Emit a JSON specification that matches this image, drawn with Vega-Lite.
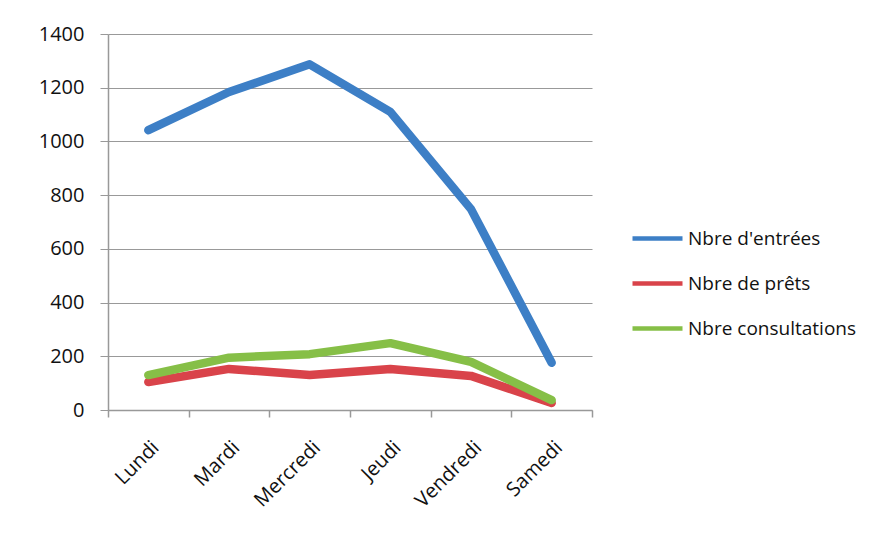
{
  "$schema": "https://vega.github.io/schema/vega-lite/v6.json",
  "autosize": "none",
  "width": 484,
  "height": 376,
  "padding": {"left": 108, "top": 34, "right": 294, "bottom": 134},
  "background": "white",
  "config": {
    "view": {"stroke": null},
    "font": "Open Sans",
    "axis": {"labelFont": "Open Sans", "labelColor": "#111", "labelFontSize": 20}
  },
  "data": {
    "values": [
      {"jour": "Lundi", "serie": "Nbre d'entrées", "v": 1042},
      {"jour": "Mardi", "serie": "Nbre d'entrées", "v": 1184},
      {"jour": "Mercredi", "serie": "Nbre d'entrées", "v": 1287},
      {"jour": "Jeudi", "serie": "Nbre d'entrées", "v": 1110},
      {"jour": "Vendredi", "serie": "Nbre d'entrées", "v": 748},
      {"jour": "Samedi", "serie": "Nbre d'entrées", "v": 176},
      {"jour": "Lundi", "serie": "Nbre de prêts", "v": 104},
      {"jour": "Mardi", "serie": "Nbre de prêts", "v": 153},
      {"jour": "Mercredi", "serie": "Nbre de prêts", "v": 130},
      {"jour": "Jeudi", "serie": "Nbre de prêts", "v": 153},
      {"jour": "Vendredi", "serie": "Nbre de prêts", "v": 127},
      {"jour": "Samedi", "serie": "Nbre de prêts", "v": 26},
      {"jour": "Lundi", "serie": "Nbre consultations", "v": 130},
      {"jour": "Mardi", "serie": "Nbre consultations", "v": 195},
      {"jour": "Mercredi", "serie": "Nbre consultations", "v": 208},
      {"jour": "Jeudi", "serie": "Nbre consultations", "v": 249},
      {"jour": "Vendredi", "serie": "Nbre consultations", "v": 179},
      {"jour": "Samedi", "serie": "Nbre consultations", "v": 37}
    ]
  },
  "mark": {"type": "line", "strokeWidth": 8.5, "strokeCap": "round", "strokeJoin": "round"},
  "encoding": {
    "x": {
      "field": "jour",
      "type": "nominal",
      "sort": ["Lundi", "Mardi", "Mercredi", "Jeudi", "Vendredi", "Samedi"],
      "bandPosition": 0.5,
      "scale": {"type": "band", "paddingInner": 0, "paddingOuter": 0},
      "axis": {
        "title": null,
        "labelAngle": -45,
        "tickBand": "extent",
        "grid": false,
        "domainColor": "#999",
        "tickColor": "#999",
        "tickSize": 7,
        "domainWidth": 1.5,
        "tickWidth": 1.5,
        "labelPadding": 20
      }
    },
    "y": {
      "field": "v",
      "type": "quantitative",
      "scale": {"domain": [0, 1400], "nice": false},
      "axis": {
        "title": null,
        "format": "d",
        "values": [0, 200, 400, 600, 800, 1000, 1200, 1400],
        "gridColor": "#999",
        "gridWidth": 1.2,
        "domainColor": "#999",
        "domainWidth": 1.5,
        "tickColor": "#999",
        "tickSize": 8,
        "labelPadding": 16
      }
    },
    "color": {
      "field": "serie",
      "type": "nominal",
      "sort": ["Nbre d'entrées", "Nbre de prêts", "Nbre consultations"],
      "scale": {
        "domain": ["Nbre d'entrées", "Nbre de prêts", "Nbre consultations"],
        "range": ["#3D7FC6", "#D9434A", "#86BF47"]
      },
      "legend": {
        "title": null,
        "orient": "none",
        "legendX": 522,
        "legendY": 177,
        "symbolType": "stroke",
        "symbolSize": 2500,
        "symbolStrokeWidth": 4.5,
        "labelFontSize": 19,
        "labelFont": "Open Sans",
        "labelColor": "#111",
        "labelLimit": 400,
        "rowPadding": 7,
        "labelOffset": 3
      }
    }
  }
}
